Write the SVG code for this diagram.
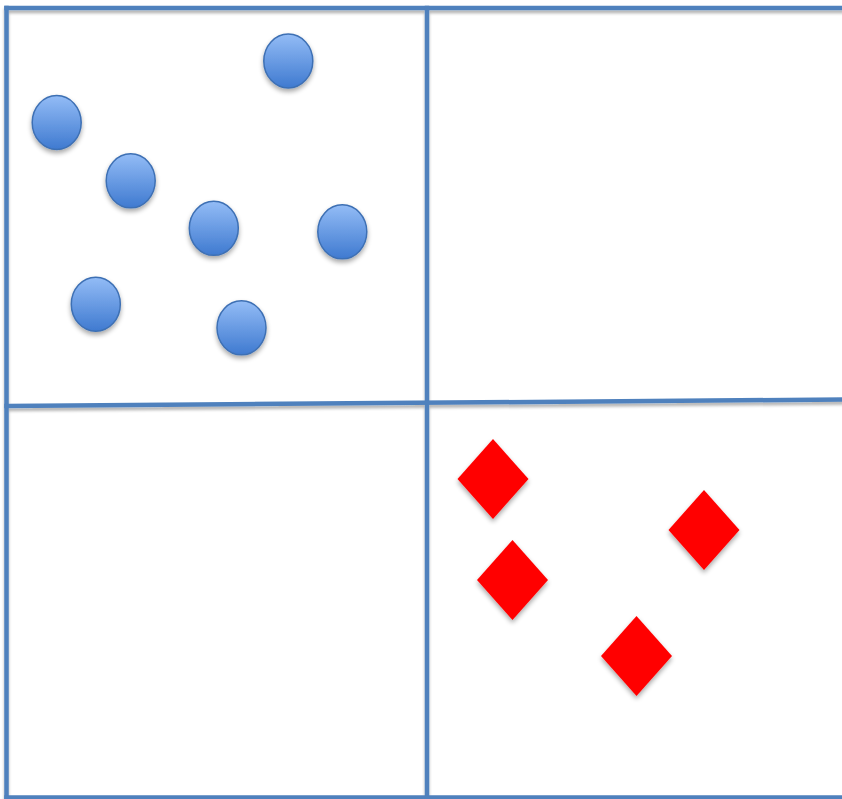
<svg xmlns="http://www.w3.org/2000/svg" width="842" height="799" viewBox="0 0 842 799">
<defs>
<linearGradient id="blueGrad" x1="0" y1="0" x2="0" y2="1">
<stop offset="0" stop-color="#93bcf6"/>
<stop offset="1" stop-color="#3f7ad0"/>
</linearGradient>
<filter id="shadow" x="-30%" y="-30%" width="160%" height="170%">
<feGaussianBlur in="SourceAlpha" stdDeviation="2.5"/>
<feOffset dx="0" dy="3" result="b"/>
<feComponentTransfer><feFuncA type="linear" slope="0.35"/></feComponentTransfer>
<feMerge><feMergeNode/><feMergeNode in="SourceGraphic"/></feMerge>
</filter>
<filter id="lineShadow" x="-5%" y="-50%" width="110%" height="300%">
<feGaussianBlur in="SourceAlpha" stdDeviation="1.5"/>
<feOffset dx="0" dy="2.5" result="b"/>
<feComponentTransfer><feFuncA type="linear" slope="0.3"/></feComponentTransfer>
<feMerge><feMergeNode/><feMergeNode in="SourceGraphic"/></feMerge>
</filter>
</defs>
<style>
.grid{stroke:#4f81bd;stroke-width:4.5;fill:none;stroke-linecap:square}
.dot{fill:url(#blueGrad);stroke:#3e70b4;stroke-width:1.5;filter:url(#shadow)}
.dia{fill:#ff0000;filter:url(#shadow)}
</style>
<rect width="842" height="799" fill="#ffffff"/>
<g id="connectors" filter="url(#lineShadow)">
<line class="grid" x1="6.5" y1="8" x2="842" y2="8"/>
<line class="grid" x1="6.5" y1="8" x2="6.5" y2="797.5"/>
<line class="grid" x1="6.5" y1="797.5" x2="842" y2="797.5"/>
<line class="grid" x1="427" y1="8" x2="427" y2="797.5"/>
<line class="grid" x1="6.5" y1="406" x2="842" y2="399.5"/>
</g>
<g id="circle1"><ellipse class="dot" cx="288.3" cy="61" rx="24.5" ry="27"/></g>
<g id="circle2"><ellipse class="dot" cx="56.7" cy="122.5" rx="24.5" ry="27"/></g>
<g id="circle3"><ellipse class="dot" cx="130.7" cy="180.8" rx="24.5" ry="27"/></g>
<g id="circle4"><ellipse class="dot" cx="213.8" cy="228.3" rx="24.5" ry="27"/></g>
<g id="circle5"><ellipse class="dot" cx="342.3" cy="231.8" rx="24.5" ry="27"/></g>
<g id="circle6"><ellipse class="dot" cx="95.8" cy="304.2" rx="24.5" ry="27"/></g>
<g id="circle7"><ellipse class="dot" cx="241.5" cy="327.8" rx="24.5" ry="27"/></g>
<g id="diamond1"><polygon class="dia" points="493,439 528.5,479 493,519 457.5,479"/></g>
<g id="diamond2"><polygon class="dia" points="512.5,540 548,580 512.5,620 477,580"/></g>
<g id="diamond3"><polygon class="dia" points="704,490 739.5,530 704,570 668.5,530"/></g>
<g id="diamond4"><polygon class="dia" points="636.5,616 672,656 636.5,696 601,656"/></g>
</svg>
